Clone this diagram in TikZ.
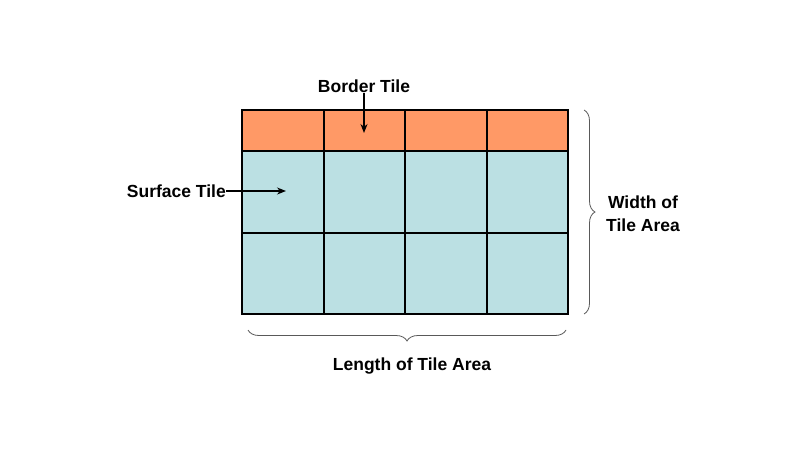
\documentclass[tikz,border=0pt]{standalone}
\usepackage{fontspec}
\setmainfont{Liberation Sans}
\usetikzlibrary{decorations.pathreplacing,arrows.meta}
\definecolor{borderc}{HTML}{FF9966}
\definecolor{surfc}{HTML}{BBE0E3}
\tikzset{
  gridline/.style={draw=black, line width=2pt, line cap=rect},
  lbl/.style={font=\bfseries\fontsize{17.5}{21}\selectfont, inner sep=0pt},
  ptr/.style={-{Stealth[length=9pt,width=7pt]}, line width=1.3pt},
  brc/.style={decorate, decoration={brace, amplitude=11pt}, draw=black!65, line width=0.8pt}
}
\begin{document}
\begin{tikzpicture}[x=1pt,y=-1pt]
\useasboundingbox (0,0) rectangle (800,450);
% column x and row y positions
\coordinate (tl) at (242,110);
\coordinate (br) at (568,314);
\fill[borderc] (242,110) rectangle (568,151);
\fill[surfc] (242,151) rectangle (568,314);
% grid lines
\draw[gridline] (tl) rectangle (br);
\foreach \y in {151,233}{
  \draw[gridline] (242,\y) -- (568,\y);
}
\foreach \x in {324,405,487}{
  \draw[gridline] (\x,110) -- (\x,314);
}
\node[lbl] (bt) at (364,86) {Border Tile};
\coordinate (btend) at (364,133);
\draw[ptr] (bt.south) -- (btend);
\node[lbl, anchor=east] (st) at (226,191) {Surface Tile};
\coordinate (stend) at (286,191);
\draw[ptr] (st.east) -- (stend);
\coordinate (rb1) at (584,110);
\coordinate (rb2) at (584,314);
\draw[brc] (rb1) -- (rb2);
\node[lbl, align=center] (w) at (643,214) {Width of\\[2pt]Tile Area};
\coordinate (lb1) at (566,330);
\coordinate (lb2) at (248,330);
\draw[brc] (lb1) -- (lb2);
\node[lbl] (l) at (412,366) {Length of Tile Area};
\end{tikzpicture}
\end{document}
